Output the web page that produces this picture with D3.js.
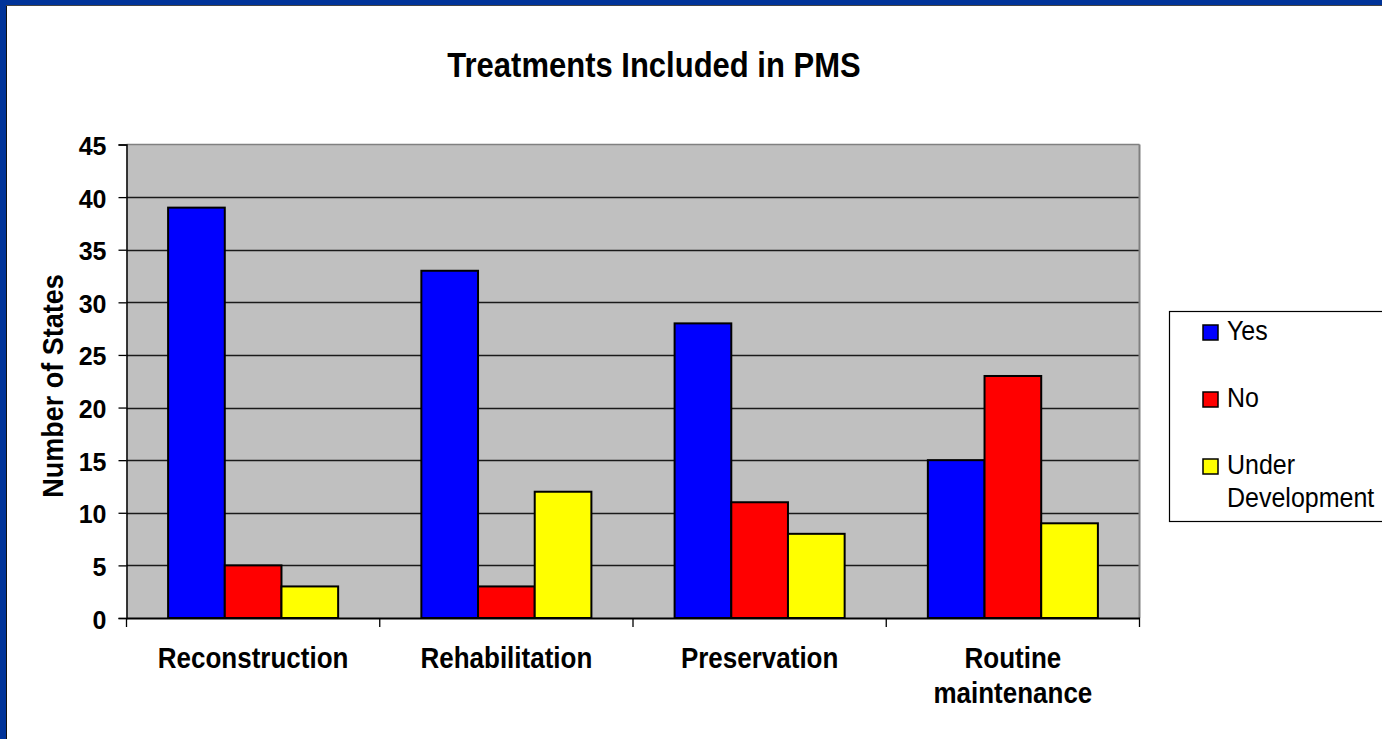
<!DOCTYPE html>
<html>
<head>
<meta charset="utf-8">
<script src="https://cdn.jsdelivr.net/npm/d3@7"></script>
<style>
  html, body { margin: 0; padding: 0; background: #ffffff; }
  svg { display: block; }
  text { font-family: "Liberation Sans", Arial, sans-serif; fill: #000; }
</style>
</head>
<body>
<svg id="chart" width="1382" height="739"></svg>
<script>
// ---- data ----
const categories = ["Reconstruction", "Rehabilitation", "Preservation", "Routine maintenance"];
const categoryLines = [["Reconstruction"], ["Rehabilitation"], ["Preservation"], ["Routine", "maintenance"]];
const seriesNames = ["Yes", "No", "Under Development"];
const legendLines = [["Yes"], ["No"], ["Under", "Development"]];
const yesValues = [39, 33, 28, 15];
const noValues = [5, 3, 11, 23];
const underDevValues = [3, 12, 8, 9];
const yTicks = [0, 5, 10, 15, 20, 25, 30, 35, 40, 45];
const seriesColors = ["#0000ff", "#ff0000", "#ffff00"];
const titleText = "Treatments Included in PMS";
const yAxisTitle = "Number of States";

const seriesValues = [yesValues, noValues, underDevValues];

const svg = d3.select("#chart");
const W = 1382, H = 739;
const SY = 1.12; // vertical glyph stretch

// helper: multi-line text at (x, baseline) with vertical stretch
function stretchedText(parent, x, yb, lines, opts) {
  const g = parent.append("g").attr("transform", `translate(${x},${yb})${opts.rotate ? " rotate(" + opts.rotate + ")" : ""} scale(1,${SY})`);
  const t = g.append("text")
    .attr("x", 0).attr("y", 0)
    .attr("text-anchor", opts.anchor || "start")
    .attr("font-size", opts.size)
    .attr("font-weight", opts.weight || "normal");
  t.selectAll("tspan").data(lines).join("tspan")
    .attr("x", 0)
    .attr("dy", (d, i) => i === 0 ? 0 : (opts.lineGap || 0) / SY)
    .text(d => d);
  return g;
}

// frame
svg.append("rect").attr("x", 0).attr("y", 0).attr("width", W).attr("height", H).attr("fill", "#ffffff");
svg.append("rect").attr("x", 0).attr("y", 0).attr("width", W).attr("height", 5).attr("fill", "#003399");
svg.append("rect").attr("x", 0).attr("y", 0).attr("width", 6).attr("height", H).attr("fill", "#003399");
svg.append("line").attr("x1", 6.5).attr("x2", 6.5).attr("y1", 5).attr("y2", H).attr("stroke", "#111").attr("stroke-width", 1);
svg.append("line").attr("x1", 6).attr("x2", W).attr("y1", 5.5).attr("y2", 5.5).attr("stroke", "#444").attr("stroke-width", 1);

const plot = { left: 126.5, right: 1139.5, top: 144.5, bottom: 618 };

const x0 = d3.scaleBand().domain(categories).range([plot.left, plot.right]).paddingInner(0).paddingOuter(0);
const x1 = d3.scaleBand().domain(seriesNames).range([0, x0.bandwidth()]).paddingInner(0).paddingOuter(0.734);
const y = d3.scaleLinear().domain([0, 45]).range([plot.bottom, plot.top]);

// plot background
svg.append("rect")
  .attr("x", plot.left).attr("y", plot.top)
  .attr("width", plot.right - plot.left).attr("height", plot.bottom - plot.top)
  .attr("fill", "#c0c0c0");

// gridlines
svg.append("g").selectAll("line").data(yTicks.filter(t => t > 0 && t < 45)).join("line")
  .attr("x1", plot.left).attr("x2", plot.right)
  .attr("y1", d => Math.round(y(d)) + 0.5).attr("y2", d => Math.round(y(d)) + 0.5)
  .attr("stroke", "#1a1a1a").attr("stroke-width", 1.3);

// top & right border (grey)
svg.append("line").attr("x1", plot.left).attr("x2", plot.right).attr("y1", plot.top).attr("y2", plot.top)
  .attr("stroke", "#808080").attr("stroke-width", 1.5);
svg.append("line").attr("x1", plot.right).attr("x2", plot.right).attr("y1", plot.top).attr("y2", plot.bottom)
  .attr("stroke", "#808080").attr("stroke-width", 2);

// bars
const groups = svg.append("g").selectAll("g").data(categories).join("g")
  .attr("transform", d => `translate(${x0(d)},0)`);
groups.selectAll("rect").data((d, i) => seriesNames.map((s, j) => ({ s, j, v: seriesValues[j][i] }))).join("rect")
  .attr("x", d => x1(d.s))
  .attr("y", d => y(d.v))
  .attr("width", x1.bandwidth())
  .attr("height", d => y(0) - y(d.v))
  .attr("fill", d => seriesColors[d.j])
  .attr("stroke", "#000").attr("stroke-width", 2);

// y axis
const yAxis = d3.axisLeft(y).tickValues(yTicks).tickSize(8).tickPadding(12).tickFormat(d3.format("d"));
const yg = svg.append("g").attr("transform", `translate(${plot.left},0)`).call(yAxis);
yg.select(".domain").attr("stroke", "#000").attr("stroke-width", 1.5);
yg.selectAll(".tick line").attr("stroke", "#000").attr("stroke-width", 1.3);
yg.selectAll(".tick text").attr("font-size", 25).attr("font-weight", "bold")
  .attr("font-family", "Liberation Sans, Arial, sans-serif").attr("fill", "#000")
  .attr("x", -20).attr("dy", "0.4em");

// x axis
const xAxis = d3.axisBottom(x0).tickSize(0).tickFormat("");
const xg = svg.append("g").attr("transform", `translate(0,${plot.bottom})`).call(xAxis);
xg.select(".domain").attr("stroke", "#000").attr("stroke-width", 2);
// boundary ticks
const boundaries = categories.map(c => x0(c)).concat([x0.range()[1]]);
svg.append("g").selectAll("line").data(boundaries).join("line")
  .attr("x1", d => d).attr("x2", d => d)
  .attr("y1", plot.bottom).attr("y2", plot.bottom + 9)
  .attr("stroke", "#000").attr("stroke-width", 1.3);

// category labels
const catG = svg.append("g");
categories.forEach((c, i) => {
  stretchedText(catG, x0(c) + x0.bandwidth() / 2, 668, categoryLines[i],
    { anchor: "middle", size: 26, weight: "bold", lineGap: 35 });
});

// title
stretchedText(svg, 654, 77, [titleText], { anchor: "middle", size: 31, weight: "bold" });

// y axis title
stretchedText(svg, 63, 386, [yAxisTitle], { anchor: "middle", size: 27, weight: "bold", rotate: -90 });

// legend
const legend = svg.append("g");
legend.append("rect").attr("x", 1169.5).attr("y", 311.5).attr("width", 240).attr("height", 210)
  .attr("fill", "#fff").attr("stroke", "#000").attr("stroke-width", 1.2);
seriesNames.forEach((s, i) => {
  const top = 325 + i * 67;
  legend.append("rect").attr("x", 1203).attr("y", top).attr("width", 15).attr("height", 15)
    .attr("fill", seriesColors[i]).attr("stroke", "#000").attr("stroke-width", 1.5);
  stretchedText(legend, 1227, top + 15, legendLines[i], { anchor: "start", size: 25, lineGap: 33 });
});
</script>
</body>
</html>
